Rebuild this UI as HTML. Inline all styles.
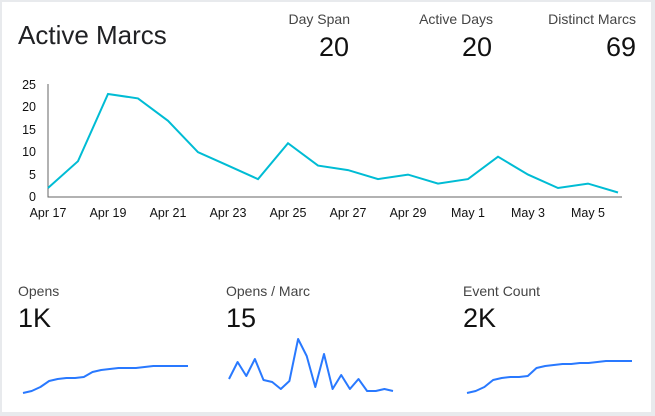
<!DOCTYPE html>
<html><head><meta charset="utf-8"><style>
body{margin:0;width:655px;height:416px;background:#e8eaed;overflow:hidden}
svg{display:block;font-family:"Liberation Sans",sans-serif}
</style></head><body>
<svg width="655" height="416" viewBox="0 0 655 416">
<rect x="2" y="2" width="649" height="410" fill="#fff"/>
<text x="18" y="44" font-size="26" fill="#202124">Active Marcs</text>
<g font-size="14" fill="#444" text-anchor="end">
<text x="350" y="24">Day Span</text>
<text x="493" y="24">Active Days</text>
<text x="636" y="24">Distinct Marcs</text>
</g>
<g font-size="27" fill="#111" text-anchor="end">
<text x="349" y="56">20</text>
<text x="492" y="56">20</text>
<text x="636" y="56">69</text>
</g>
<g font-size="12.5" fill="#111" text-anchor="end">
<text x="36" y="89">25</text><text x="36" y="111">20</text><text x="36" y="134">15</text>
<text x="36" y="156">10</text><text x="36" y="179">5</text><text x="36" y="201">0</text>
</g>
<g font-size="12.5" fill="#111" text-anchor="middle">
<text x="48" y="217">Apr 17</text><text x="108" y="217">Apr 19</text><text x="168" y="217">Apr 21</text>
<text x="228" y="217">Apr 23</text><text x="288" y="217">Apr 25</text><text x="348" y="217">Apr 27</text>
<text x="408" y="217">Apr 29</text><text x="468" y="217">May 1</text><text x="528" y="217">May 3</text>
<text x="588" y="217">May 5</text>
</g>
<path d="M48 84V197H622" fill="none" stroke="#666" stroke-width="1"/>
<polyline fill="none" stroke="#00bcd4" stroke-width="2" points="48,188 78,161.2 108,94 138,98.4 168,120.8 198,152.2 228,165.6 258,179.1 288,143.2 318,165.6 348,170.1 378,179.1 408,174.6 438,183.6 468,179.1 498,156.7 528,174.6 558,188 588,183.6 618,192.5"/>
<g font-size="14" fill="#444">
<text x="18" y="296">Opens</text><text x="226" y="296">Opens / Marc</text><text x="463" y="296">Event Count</text>
</g>
<g font-size="27" fill="#111">
<text x="18" y="327">1K</text><text x="226" y="327">15</text><text x="463" y="327">2K</text>
</g>
<g fill="none" stroke="#2979ff" stroke-width="2" stroke-linejoin="round">
<polyline points="23,393 31.7,391 40.4,387 49.1,381 57.7,379 66.4,378 75.1,378 83.8,377 92.5,372 101.2,370 109.8,369 118.5,368 127.2,368 135.9,368 144.6,367 153.3,366 161.9,366 170.6,366 179.3,366 188,366"/>
<polyline points="229,379 237.6,362 246.3,376 254.9,359 263.5,380 272.2,382 280.8,389 289.4,381 298.1,339 306.7,356 315.3,387 324,354 332.6,389 341.2,375 349.9,389 358.5,379 367.1,391 375.8,391 384.4,389 393,391"/>
<polyline points="467,393 475.7,391 484.4,387 493.1,380 501.7,378 510.4,377 519.1,377 527.8,376 536.5,368 545.2,366 553.8,365 562.5,364 571.2,364 579.9,363 588.6,363 597.3,362 605.9,361 614.6,361 623.3,361 632,361"/>
</g>
</svg>
</body></html>
